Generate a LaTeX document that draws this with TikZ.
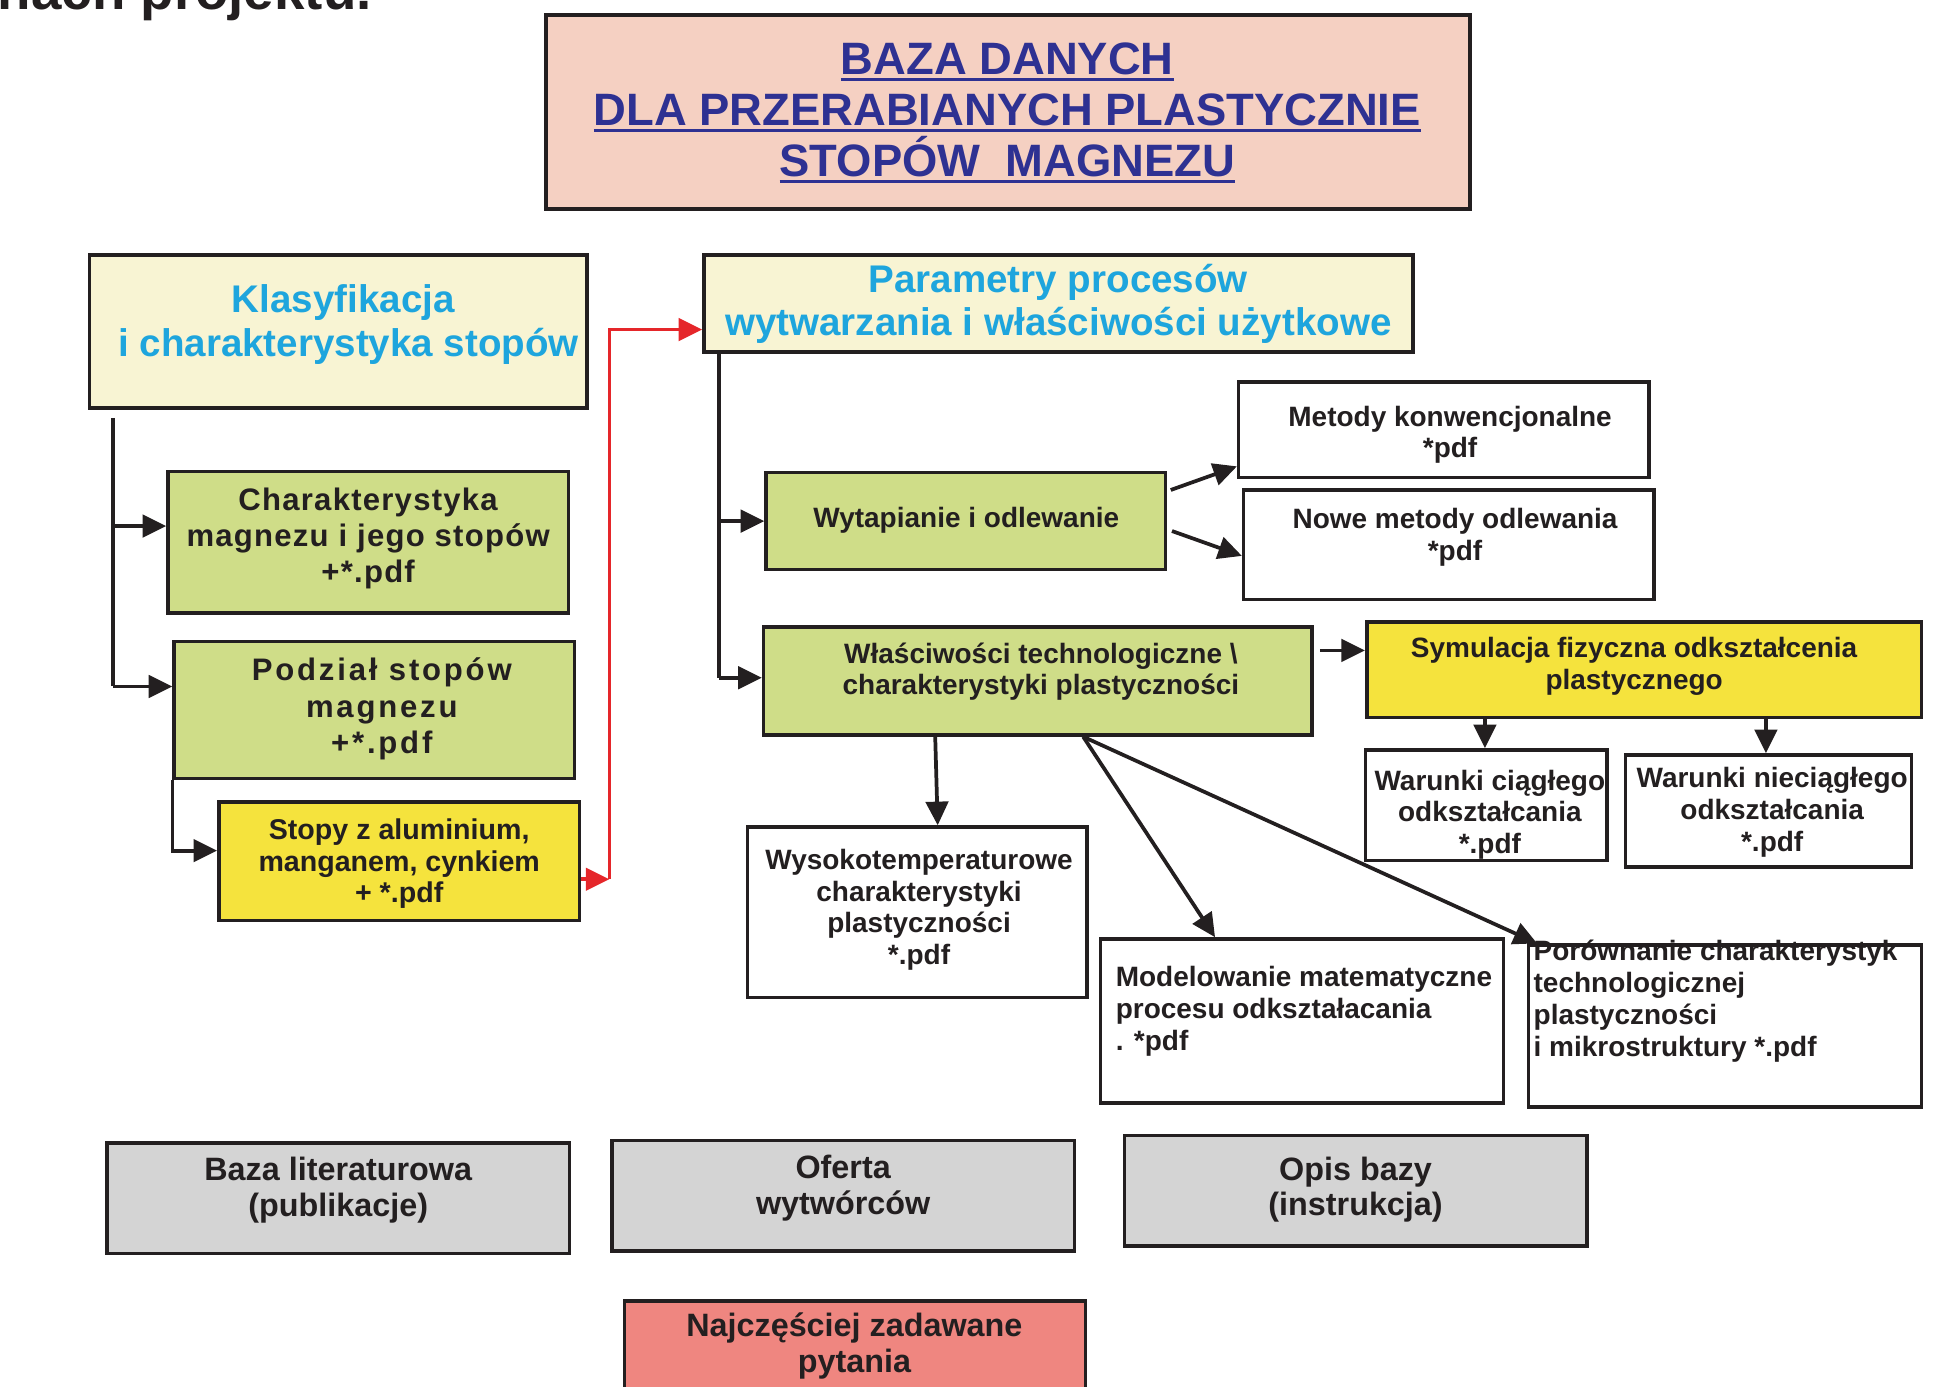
\documentclass[tikz,border=0pt]{standalone}
\usepackage{fontspec}
\setmainfont{Liberation Sans}
\newfontfamily\spacedA[LetterSpace=4]{Liberation Sans}
\newfontfamily\spacedB[LetterSpace=9]{Liberation Sans}
\usetikzlibrary{arrows.meta}
\definecolor{bordc}{HTML}{231F20}
\definecolor{titlefill}{HTML}{F5D0C2}
\definecolor{titleblue}{HTML}{2E3192}
\definecolor{cream}{HTML}{F8F4D3}
\definecolor{cyantxt}{HTML}{1EA5DD}
\definecolor{greenfill}{HTML}{CFDD88}
\definecolor{yellowfill}{HTML}{F5E33D}
\definecolor{grayfill}{HTML}{D4D4D4}
\definecolor{salmon}{HTML}{EF8680}
\definecolor{redline}{HTML}{E5262A}
\newcommand\fsz[2]{\fontsize{#1}{#2}\selectfont}
\newcommand\mkbox[6]{\node[bx,fill=#6,minimum width={(#4)-(#2)},minimum height={(#5)-(#3)}] (#1) at ({((#2)+(#4))/2},{((#3)+(#5))/2}) {};}
\newcommand\myul[1]{\setbox0=\hbox{#1}\copy0\kern-\wd0\rule[-5pt]{\wd0}{2.2pt}}
\begin{document}
\begin{tikzpicture}[x=1pt,y=-1pt,
  bx/.style={draw=bordc,line width=2.8pt,inner sep=0pt,rectangle},
  txt/.style={inner sep=0pt,align=center,text=bordc,font=\bfseries},
  cond/.style={txt,font=\fsz{22.5}{25.5}\bfseries},
  ln/.style={draw=bordc,line width=3pt},
  conn/.style={ln,-{Triangle[length=19pt,width=18pt]}},
  redconn/.style={draw=redline,line width=3pt,-{Triangle[length=19pt,width=18pt]}}]
\useasboundingbox (0,0) rectangle (1568,1115);
\clip (0,0) rectangle (1568,1115);

% heading fragment
\node[anchor=base west,inner sep=0pt,text=bordc,font=\fsz{44}{50}\bfseries] (t-head) at (-2,8) {nach projektu.};

% boxes
\mkbox{b-title}{439}{12}{1182}{168}{titlefill}
\mkbox{b-klas}{72}{205}{472}{328}{cream}
\mkbox{b-param}{566}{205}{1136}{283}{cream}
\mkbox{b-char}{135}{379}{457}{493}{greenfill}
\mkbox{b-podz}{140}{516}{462}{626}{greenfill}
\mkbox{b-stop}{176}{645}{466}{740}{yellowfill}
\mkbox{b-wyt}{616}{380}{937}{458}{greenfill}
\mkbox{b-met}{996}{307}{1326}{384}{white}
\mkbox{b-nowe}{1000}{394}{1330}{482}{white}
\mkbox{b-wlas}{614}{504}{1055}{591}{greenfill}
\mkbox{b-sym}{1099}{500}{1545}{577}{yellowfill}
\mkbox{b-wc}{1098}{603}{1292}{692}{white}
\mkbox{b-wn}{1307}{607}{1537}{697}{white}
\mkbox{b-wys}{601}{665}{874}{802}{white}
\mkbox{b-mod}{885}{755}{1209}{887}{white}
\mkbox{b-por}{1229}{760}{1545}{890}{white}
\mkbox{b-baza}{86}{919}{458}{1008}{grayfill}
\mkbox{b-ofer}{492}{917}{864}{1006}{grayfill}
\mkbox{b-opis}{904}{913}{1276}{1002}{grayfill}
\mkbox{b-najc}{502}{1046}{873}{1135}{salmon}

% texts
\node[txt,text=titleblue,font=\fsz{36.5}{41}\bfseries] (t-title) at (810,91)
  {\myul{BAZA DANYCH}\\ \myul{DLA PRZERABIANYCH PLASTYCZNIE}\\ \myul{STOPÓW\ \ MAGNEZU}};
\node[txt,text=cyantxt,font=\fsz{31}{36}\bfseries] (t-klas) at (276,261) {Klasyfikacja\\ \ i charakterystyka stopów};
\node[txt,text=cyantxt,font=\fsz{31}{35}\bfseries] (t-param) at (851,244.5) {Parametry procesów\\ wytwarzania i właściwości użytkowe};
\node[txt,font=\fsz{25}{29}\spacedA\bfseries] (t-char) at (296,433) {Charakterystyka\\ magnezu i jego stopów\\ +*.pdf};
\node[txt,font=\fsz{25}{29}\spacedB\bfseries] (t-podz) at (307,570) {Podział stopów\\ magnezu\\ +*.pdf};
\node[txt,font=\fsz{23}{25.5}\bfseries] (t-stop) at (321,694.5) {Stopy z aluminium,\\ manganem, cynkiem\\ + *.pdf};
\node[cond] (t-wyt) at (777,418) {Wytapianie i odlewanie};
\node[cond] (t-met) at (1166,349.5) {Metody konwencjonalne\\ *pdf};
\node[cond] (t-nowe) at (1170,432) {Nowe metody odlewania\\ *pdf};
\node[cond] (t-wlas) at (837,540) {Właściwości technologiczne \textbackslash\\ charakterystyki plastyczności};
\node[cond] (t-sym) at (1314,536) {Symulacja fizyczna odkształcenia\\ plastycznego};
\node[cond] (t-wc) at (1198,655) {Warunki ciągłego\\ odkształcania\\ *.pdf};
\node[cond] (t-wn) at (1425,653) {Warunki nieciągłego\\ odkształcania\\ *.pdf};
\node[cond] (t-wys) at (739,731.5) {Wysokotemperaturowe\\ charakterystyki\\ plastyczności\\ *.pdf};
\node[cond,align=left,anchor=west] (t-mod) at (897,813) {Modelowanie matematyczne\\ procesu odkształacania\\ . *pdf};
\node[cond,align=left,anchor=west] (t-por) at (1233,805) {Porównanie charakterystyk\\ technologicznej\\ plastyczności\\ i mikrostruktury *.pdf};
\node[txt,font=\fsz{26}{28.5}\bfseries] (t-baza) at (272,957) {Baza literaturowa\\ (publikacje)};
\node[txt,font=\fsz{26}{28.5}\bfseries] (t-ofer) at (678,955.5) {Oferta\\ wytwórców};
\node[txt,font=\fsz{26}{28.5}\bfseries] (t-opis) at (1090,956.5) {Opis bazy\\ (instrukcja)};
\node[txt,font=\fsz{26}{29}\bfseries] (t-najc) at (687,1082) {Najczęściej zadawane\\ pytania};

% left trunk
\coordinate (k0) at (91,336);
\coordinate (k1) at (91,423);
\coordinate (k2) at (91,552);
\draw[ln] (k0) -- (k2);
\draw[conn] (k1) -- (b-char.west |- k1);
\draw[conn] (k2) -- (b-podz.west |- k2);
\coordinate (p1) at (141,684);
\draw[conn] (b-podz.south west) |- (b-stop.west |- p1);

% red link
\coordinate (r1) at (490,707);
\coordinate (r2) at (0,265);
\draw[redconn] (b-stop.east |- r1) -- (r1);
\draw[redconn] (r1) |- (b-param.west |- r2);

% middle trunk
\coordinate (m0) at (578,283);
\coordinate (m1) at (578,419);
\coordinate (m2) at (578,545);
\draw[ln] (m0) -- (m2);
\draw[conn] (m1) -- (b-wyt.west |- m1);
\draw[conn] (m2) -- (b-wlas.west |- m2);

% casting branches
\draw[conn] ([xshift=3pt]b-wyt.east |- 0,394) -- (b-met.west |- 0,375);
\draw[conn] ([xshift=4pt]b-wyt.east |- 0,427) -- (b-nowe.west |- 0,447);

% simulation
\draw[conn] ([xshift=5pt]b-wlas.east |- 0,523) -- (b-sym.west |- 0,523);
\draw[conn] (b-sym.south -| 1194,0) -- (b-wc.north -| 1194,0);
\draw[conn] (b-sym.south -| 1420,0) -- (b-wn.north -| 1420,0);

% properties branches
\draw[conn] (b-wlas.south -| 752,0) -- (b-wys.north -| 754,0);
\draw[conn] (b-wlas.south -| 871,0) -- (b-mod.north -| 977,0);
\draw[conn] (b-wlas.south -| 871,0) -- (b-por.north -| 1236,0);
\end{tikzpicture}
\end{document}
